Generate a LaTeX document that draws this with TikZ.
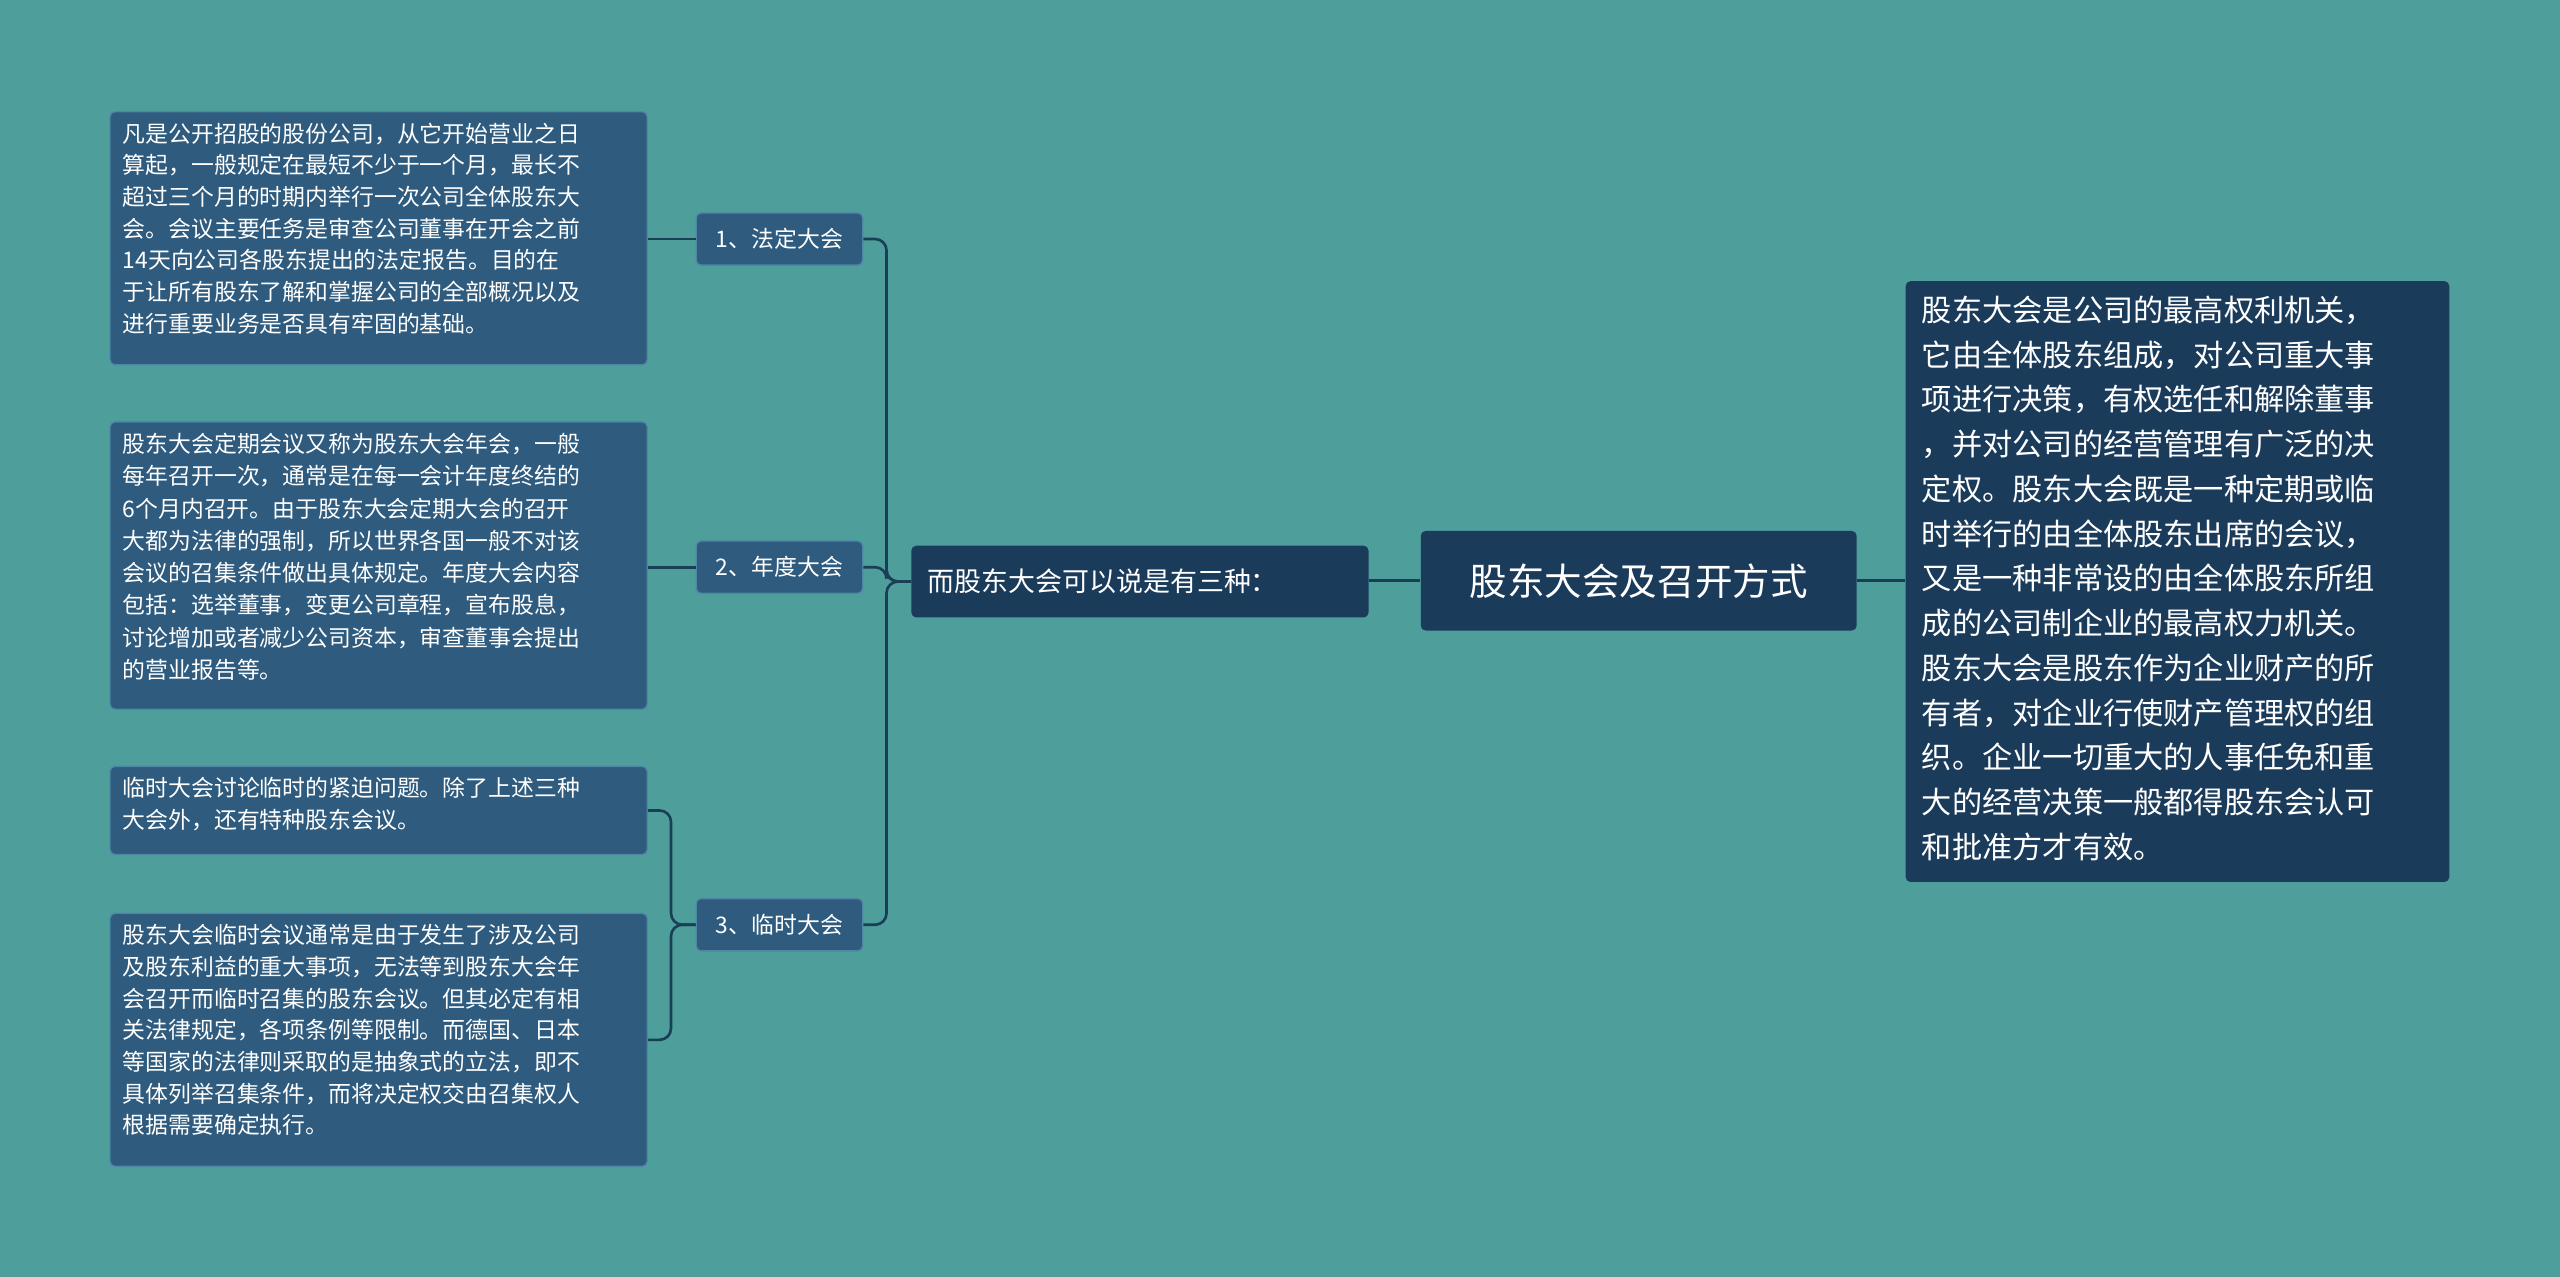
\documentclass[tikz,border=0pt]{standalone}
\usepackage{fontspec}
\setmainfont{Noto Sans CJK SC}
\definecolor{bg}{HTML}{4E9E9C}
\definecolor{dark}{HTML}{1B3B5B}
\definecolor{leaf}{HTML}{2E5B7E}
\definecolor{leafb}{HTML}{4F86A6}
\definecolor{conn}{HTML}{1A3E55}
\begin{document}
\begin{tikzpicture}[x=1pt,y=-1pt,
 box/.style={rounded corners=3pt,text=white,inner sep=0pt,anchor=north west},
 darkbox/.style={box,fill=dark},
 leafbox/.style={box,fill=leaf,draw=leafb,line width=0.8pt},
 cn/.style={draw=conn,line width=1.6pt,rounded corners=7pt},
 lt/.style={anchor=north west,text=white,align=left,inner sep=0pt,font=\fontsize{14}{19.4}\selectfont}]
\fill[bg] (0,0) rectangle (1568,782);
\useasboundingbox (0,0) rectangle (1568,782);
\node[darkbox,minimum width=267,minimum height=61,font=\fontsize{23}{28}\selectfont] (root) at (870,325) {股东大会及召开方式};
\node[darkbox,minimum width=333,minimum height=368] (r) at (1167,172) {};
\node[lt,font=\fontsize{18.5}{27.4}\selectfont] at (1177,181) {股东大会是公司的最高权利机关，\\它由全体股东组成，对公司重大事\\项进行决策，有权选任和解除董事\\，并对公司的经营管理有广泛的决\\定权。股东大会既是一种定期或临\\时举行的由全体股东出席的会议，\\又是一种非常设的由全体股东所组\\成的公司制企业的最高权力机关。\\股东大会是股东作为企业财产的所\\有者，对企业行使财产管理权的组\\织。企业一切重大的人事任免和重\\大的经营决策一般都得股东会认可\\和批准方才有效。};
\node[darkbox,minimum width=280,minimum height=44] (mid) at (558,334) {};
\node[anchor=west,text=white,inner sep=0pt,font=\fontsize{16.5}{20}\selectfont] at (568,356) {而股东大会可以说是有三种：};
\tikzset{l2/.style={leafbox,minimum width=102,minimum height=32,font=\fontsize{14}{17}\selectfont}}
\node[l2] (a) at (426,130) {1、法定大会};
\node[l2] (b) at (426,331) {2、年度大会};
\node[l2] (c) at (426,550) {3、临时大会};
\node[leafbox,minimum width=329,minimum height=155] (a1) at (67,68) {};
\node[lt] at (75,75) {凡是公开招股的股份公司，从它开始营业之日\\算起，一般规定在最短不少于一个月，最长不\\超过三个月的时期内举行一次公司全体股东大\\会。会议主要任务是审查公司董事在开会之前\\14天向公司各股东提出的法定报告。目的在\\于让所有股东了解和掌握公司的全部概况以及\\进行重要业务是否具有牢固的基础。};
\node[leafbox,minimum width=329,minimum height=176] (b1) at (67,258) {};
\node[lt,font=\fontsize{14}{19.8}\selectfont] at (75,265) {股东大会定期会议又称为股东大会年会，一般\\每年召开一次，通常是在每一会计年度终结的\\6个月内召开。由于股东大会定期大会的召开\\大都为法律的强制，所以世界各国一般不对该\\会议的召集条件做出具体规定。年度大会内容\\包括：选举董事，变更公司章程，宣布股息，\\讨论增加或者减少公司资本，审查董事会提出\\的营业报告等。};
\node[leafbox,minimum width=329,minimum height=54] (c1) at (67,469) {};
\node[lt] at (75,476) {临时大会讨论临时的紧迫问题。除了上述三种\\大会外，还有特种股东会议。};
\node[leafbox,minimum width=329,minimum height=155] (c2) at (67,559) {};
\node[lt] at (75,566) {股东大会临时会议通常是由于发生了涉及公司\\及股东利益的重大事项，无法等到股东大会年\\会召开而临时召集的股东会议。但其必定有相\\关法律规定，各项条例等限制。而德国、日本\\等国家的法律则采取的是抽象式的立法，即不\\具体列举召集条件，而将决定权交由召集权人\\根据需要确定执行。};
\draw[cn] (root.east) -- (r.west|-root.east);
\draw[cn] (root.west) -- (mid.east|-root.west);
\draw[cn] (mid.west) -- ++(-15,0) |- (a.east);
\draw[cn] (mid.west) -- ++(-15,0) |- (b.east);
\draw[cn] (mid.west) -- ++(-15,0) |- (c.east);
\draw[cn] (a.west) -- (a1.east|-a.west);
\draw[cn] (b.west) -- (b1.east|-b.west);
\draw[cn] (c.west) -- ++(-15,0) |- (c1.east);
\draw[cn] (c.west) -- ++(-15,0) |- (c2.east);
\end{tikzpicture}
\end{document}
